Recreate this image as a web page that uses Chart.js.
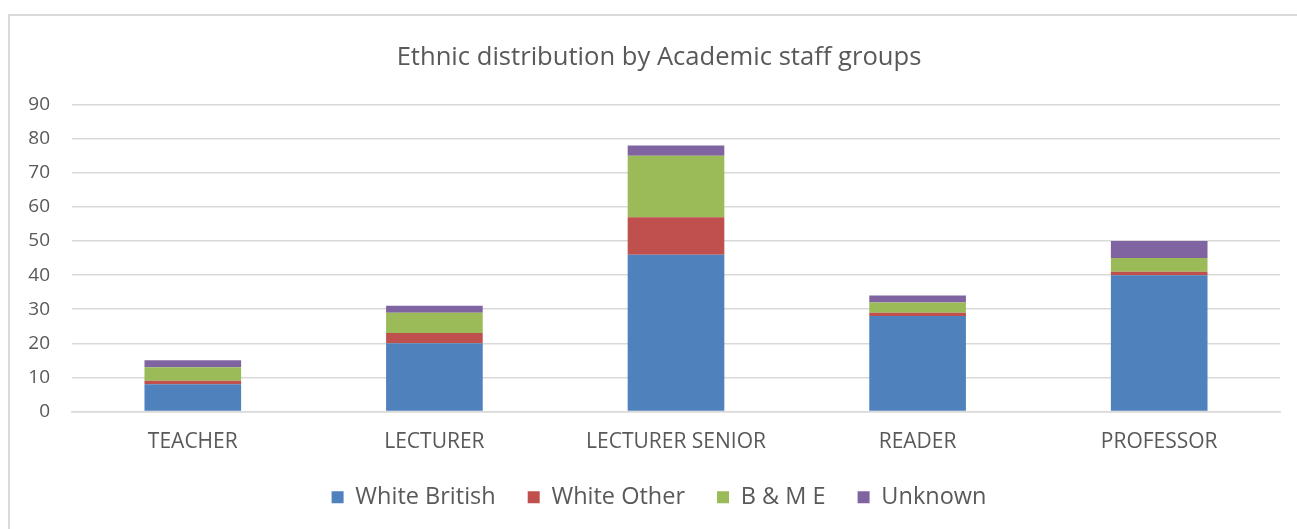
<!DOCTYPE html>
<html>
<head>
<meta charset="utf-8">
<script src="https://cdn.jsdelivr.net/npm/chart.js@4"></script>
<style>
html,body{margin:0;padding:0;background:#fff;overflow:hidden;}
#frame{position:absolute;left:8px;top:14px;width:2000px;height:2000px;border-top:2px solid #d9d9d9;border-left:2px solid #d9d9d9;}
#wrap{position:absolute;left:0;top:0;width:1318px;height:529px;}
</style>
</head>
<body>
<div id="frame"></div>
<div id="wrap"><canvas id="c" width="1318" height="529"></canvas></div>
<script>
const categories = ["TEACHER", "LECTURER", "LECTURER SENIOR", "READER", "PROFESSOR"];
const whiteBritish = [8, 20, 46, 28, 40];
const whiteOther = [1, 3, 11, 1, 1];
const bme = [4, 6, 18, 3, 4];
const unknown = [2, 2, 3, 2, 5];
const yTicks = [0, 10, 20, 30, 40, 50, 60, 70, 80, 90];

const FONT = "'Open Sans', 'Liberation Sans', sans-serif";
const TXT = "#595959";

new Chart(document.getElementById("c"), {
  type: "bar",
  data: {
    labels: categories,
    datasets: [
      { label: "White British", data: whiteBritish, backgroundColor: "#4f81bd" },
      { label: "White Other", data: whiteOther, backgroundColor: "#c0504d" },
      { label: "B & M E", data: bme, backgroundColor: "#9bbb59" },
      { label: "Unknown", data: unknown, backgroundColor: "#8064a2" }
    ]
  },
  options: {
    responsive: false,
    animation: false,
    layout: { padding: { left: 0, right: 0, top: 0, bottom: 10 } },
    datasets: { bar: { categoryPercentage: 1, barPercentage: 0.4 } },
    plugins: {
      title: {
        display: true,
        text: "Ethnic distribution by Academic staff groups",
        color: TXT,
        font: { family: FONT, size: 25.6, weight: "normal", lineHeight: 1.2 },
        padding: { top: 42, bottom: 32 }
      },
      legend: {
        position: "bottom",
        labels: {
          color: TXT,
          font: { family: FONT, size: 23.5 },
          boxWidth: 12,
          boxHeight: 12,
          padding: 32
        }
      },
      tooltip: { enabled: false }
    },
    scales: {
      x: {
        stacked: true,
        grid: { display: false, drawTicks: false },
        border: { display: true, color: "#d9d9d9", width: 1.5 },
        ticks: { color: TXT, font: { family: FONT, size: 21 }, padding: 18, maxRotation: 0 },
        afterFit: (s) => { s.height = 42; }
      },
      y: {
        stacked: true,
        min: 0,
        max: 90,
        afterBuildTicks: (s) => { s.ticks = yTicks.map(v => ({ value: v })); },
        grid: { color: "#d9d9d9", lineWidth: 1.5, drawTicks: false },
        border: { display: false },
        ticks: { color: TXT, font: { family: FONT, size: 19 }, padding: 22 },
        afterFit: (s) => { s.width = 72; }
      },
      yRightSpace: {
        type: "linear",
        position: "right",
        min: 0,
        max: 90,
        grid: { display: false, drawTicks: false },
        border: { display: false },
        ticks: { display: false },
        afterFit: (s) => { s.width = 38; }
      }
    }
  }
});
</script>
</body>
</html>
